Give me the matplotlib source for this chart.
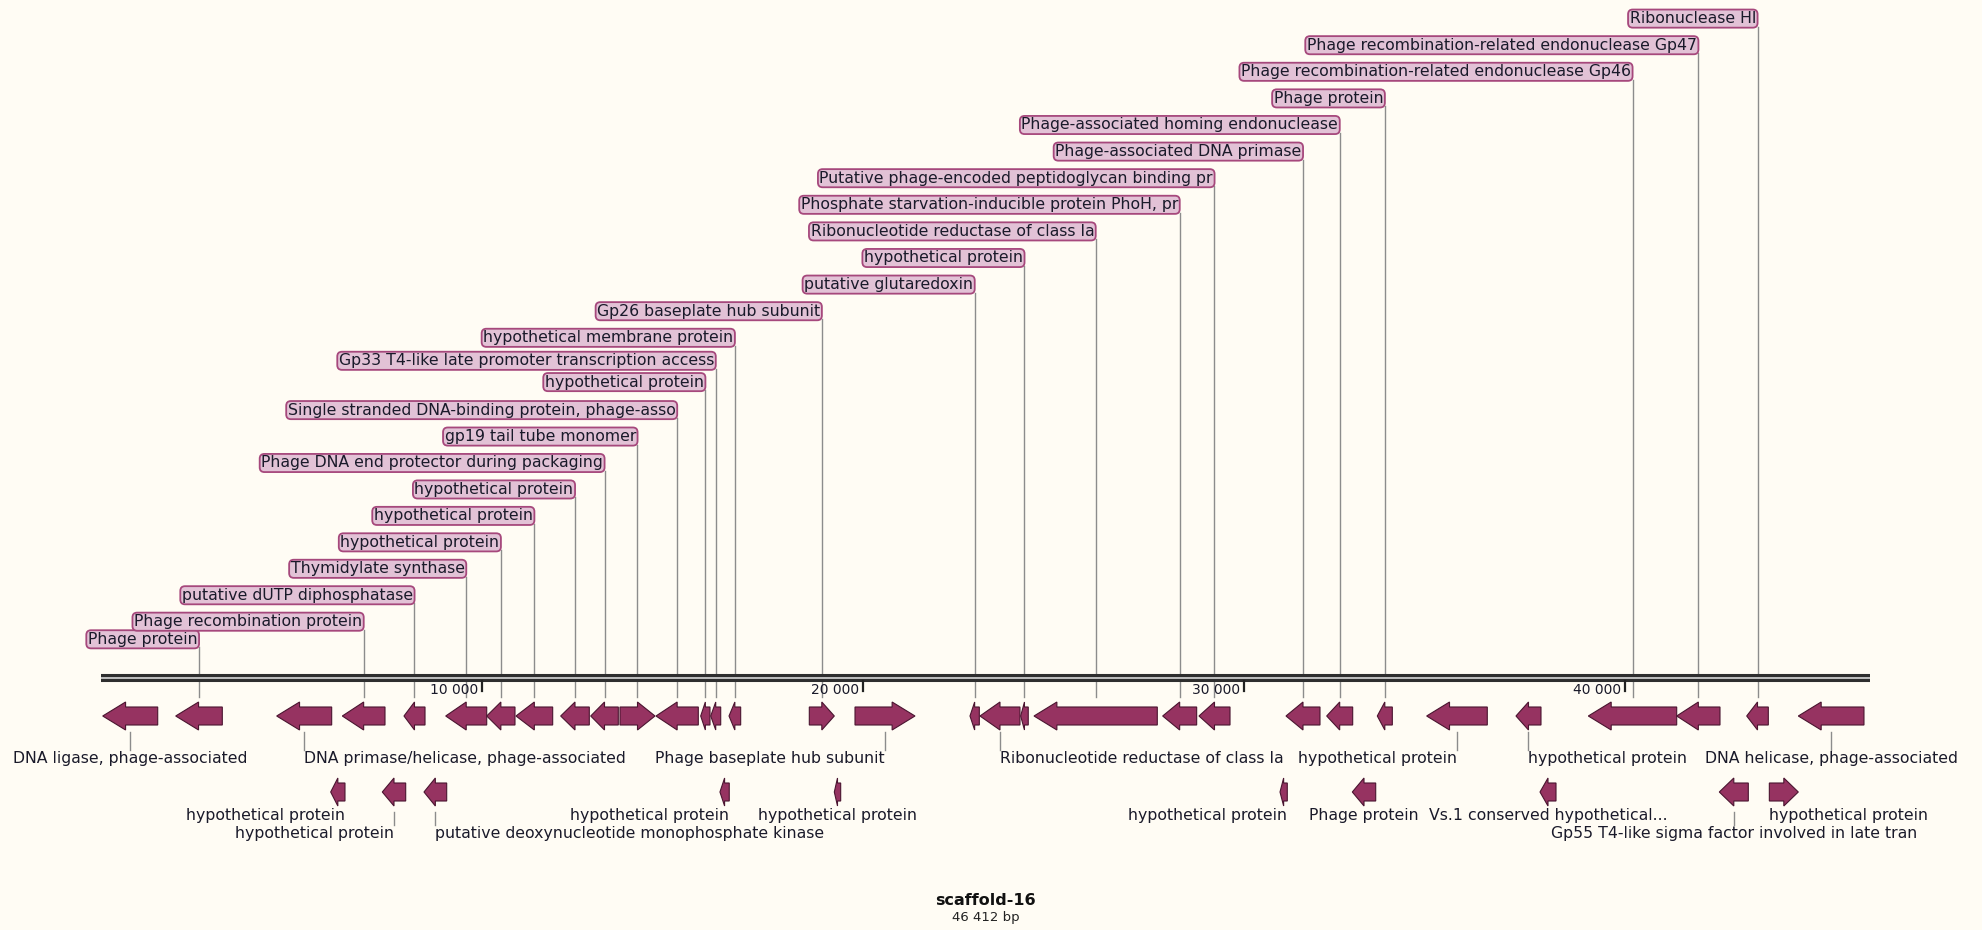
import matplotlib
matplotlib.use("Agg")
import matplotlib.pyplot as plt
from matplotlib.patches import Polygon

# sequence
seq_name = "scaffold-16"
seq_len = 46412

# genes (bp)
gene_start = [45, 1960, 4610, 6332, 7950, 9045, 10121, 10889, 12062, 12850,
              13618, 14563, 15736, 15999, 16479, 18586, 19785, 22802, 23064, 24132,
              24482, 27858, 28811, 31094, 32162, 33490, 34785, 37129, 39027, 41346,
              43183, 44537,
              6027, 7381, 8475, 16241, 19242, 30937, 32834, 37759, 42464, 43777]
gene_end = [1488, 3183, 6053, 7452, 8502, 10121, 10863, 11852, 12813, 13574,
            14537, 15673, 15980, 16261, 16785, 19242, 21359, 23047, 24114, 24331,
            27717, 28750, 29625, 31986, 32844, 33884, 36376, 37785, 41346, 42482,
            43750, 46260,
            6402, 7995, 9071, 16485, 19409, 31128, 33448, 38179, 43225, 44537]
gene_strand = [-1, -1, -1, -1, -1, -1, -1, -1, -1, -1,
               1, -1, -1, -1, -1, 1, 1, -1, -1, -1,
               -1, -1, -1, -1, -1, -1, -1, -1, -1, -1,
               -1, -1,
               -1, -1, -1, -1, -1, -1, -1, -1, -1, 1]
gene_name = ["DNA ligase, phage-associated", "Phage protein",
             "DNA primase/helicase, phage-associated", "Phage recombination protein",
             "putative dUTP diphosphatase", "Thymidylate synthase", "hypothetical protein",
             "hypothetical protein", "hypothetical protein",
             "Phage DNA end protector during packaging", "gp19 tail tube monomer",
             "Single stranded DNA-binding protein, phage-asso", "hypothetical protein",
             "Gp33 T4-like late promoter transcription access", "hypothetical membrane protein",
             "Gp26 baseplate hub subunit", "Phage baseplate hub subunit", "putative glutaredoxin",
             "Ribonucleotide reductase of class Ia", "hypothetical protein",
             "Ribonucleotide reductase of class Ia",
             "Phosphate starvation-inducible protein PhoH, pr",
             "Putative phage-encoded peptidoglycan binding pr", "Phage-associated DNA primase",
             "Phage-associated homing endonuclease", "Phage protein", "hypothetical protein",
             "hypothetical protein", "Phage recombination-related endonuclease Gp46",
             "Phage recombination-related endonuclease Gp47", "Ribonuclease HI",
             "DNA helicase, phage-associated",
             "hypothetical protein", "hypothetical protein",
             "putative deoxynucleotide monophosphate kinase", "hypothetical protein",
             "hypothetical protein", "hypothetical protein", "Phage protein",
             "Vs.1 conserved hypothetical...",
             "Gp55 T4-like sigma factor involved in late tran", "hypothetical protein"]

# layout: where each label goes
gene_row = [1] * 32 + [2] * 10
label_place = ["b", "top", "b", "top", "top", "top", "top", "top", "top", "top",
               "top", "top", "top", "top", "top", "top", "b", "top", "b", "top",
               "top", "top", "top", "top", "top", "top", "b", "b", "top", "top",
               "top", "b",
               "l1", "l2", "l2", "l1", "l1", "l1", "l1", "l1", "l2", "l1"]
label_align = ["center", "", "left", "", "", "", "", "", "", "",
               "", "", "", "", "", "", "right", "", "left", "",
               "", "", "", "", "", "", "right", "left", "", "",
               "", "center",
               "right", "right", "left", "right", "center", "right", "center", "center",
               "center", "left"]

# stacked box rows (pixel y of box centres, bottom to top)
box_gaps = [17.6] + [26.45] * 8 + [28, 21.3, 23] + [26.6] * 12
box_y = [639.3]
for g in box_gaps:
    box_y.append(box_y[-1] - g)

W, H = 1983, 930
X0 = 101.0          # pixel of bp 0
PX = 0.03811        # pixels per bp

BG = "#fffcf4"
ARROW_FC = "#963361"
ARROW_EC = "#4a1530"
BOX_FC = "#e2c2d6"
BOX_EC = "#a6487c"
LINE_C = "#8c8c8c"
TXT = "#1a1a2a"
FS = 11.3

fig = plt.figure(figsize=(W / 100, H / 100), dpi=100, facecolor=BG)
ax = fig.add_axes([0, 0, 1, 1], facecolor=BG)
ax.set_xlim(-X0 / PX, (W - X0) / PX)
ax.set_ylim(H, 0)
ax.axis("off")


def px(n):
    # pixel distance -> bp
    return n / PX


# backbone
ax.plot([0, seq_len], [677.5, 677.5], color="#2e2e2e", lw=5.8, solid_capstyle="butt", zorder=3)
ax.plot([0, seq_len], [677.5, 677.5], color="#d9d9d9", lw=1.2, solid_capstyle="butt", zorder=3)

# ruler ticks
for v in range(10000, seq_len, 10000):
    ax.plot([v, v], [681, 691], color="#222222", lw=1.6, zorder=3)
    ax.text(v - px(4), 690, "{:,}".format(v).replace(",", " "), ha="right", va="center",
            fontsize=10, color=TXT, zorder=2)

row_y = {1: 716, 2: 792}
body_h = 9
head_h = 14

lvl = 0
for i in range(len(gene_name)):
    s, e, st = gene_start[i], gene_end[i], gene_strand[i]
    yc = row_y[gene_row[i]]
    head = min(600, (e - s) / 2)
    if st < 0:
        pts = [(e, yc - body_h), (s + head, yc - body_h), (s + head, yc - head_h), (s, yc),
               (s + head, yc + head_h), (s + head, yc + body_h), (e, yc + body_h)]
    else:
        pts = [(s, yc - body_h), (e - head, yc - body_h), (e - head, yc - head_h), (e, yc),
               (e - head, yc + head_h), (e - head, yc + body_h), (s, yc + body_h)]
    ax.add_patch(Polygon(pts, closed=True, fc=ARROW_FC, ec=ARROW_EC, lw=0.8, zorder=4))

    xc = (s + e) / 2
    place = label_place[i]
    if place == "top":
        y = box_y[lvl]
        lvl += 1
        ax.text(xc - px(1.5), y, gene_name[i], ha="right", va="center", fontsize=FS, color=TXT,
                zorder=6,
                bbox=dict(boxstyle="round,pad=0.1,rounding_size=0.3", fc=BOX_FC, ec=BOX_EC, lw=1.3))
        ax.plot([xc, xc], [y + 8, 697], color=LINE_C, lw=1, zorder=1)
    else:
        tx = xc
        if place == "b":
            ty = 758
            ax.plot([xc, xc], [732, 750], color=LINE_C, lw=1, zorder=1)
        elif place == "l1":
            ty = 815.5
            # labels right under the arrow hug its ends
            if label_align[i] == "right":
                tx = e
            elif label_align[i] == "left":
                tx = s
        else:
            ty = 833.5
            ax.plot([xc, xc], [812, 825], color=LINE_C, lw=1, zorder=1)
        ax.text(tx, ty, gene_name[i], ha=label_align[i], va="center", fontsize=FS, color=TXT,
                zorder=5)

# title
ax.text(seq_len / 2, 900, seq_name, ha="center", va="center", fontsize=11.5,
        fontweight="bold", color="#111111")
ax.text(seq_len / 2, 917.5, "{:,} bp".format(seq_len).replace(",", " "), ha="center",
        va="center", fontsize=9.5, color="#222222")

fig.savefig("out.png", dpi=100, facecolor=BG)
